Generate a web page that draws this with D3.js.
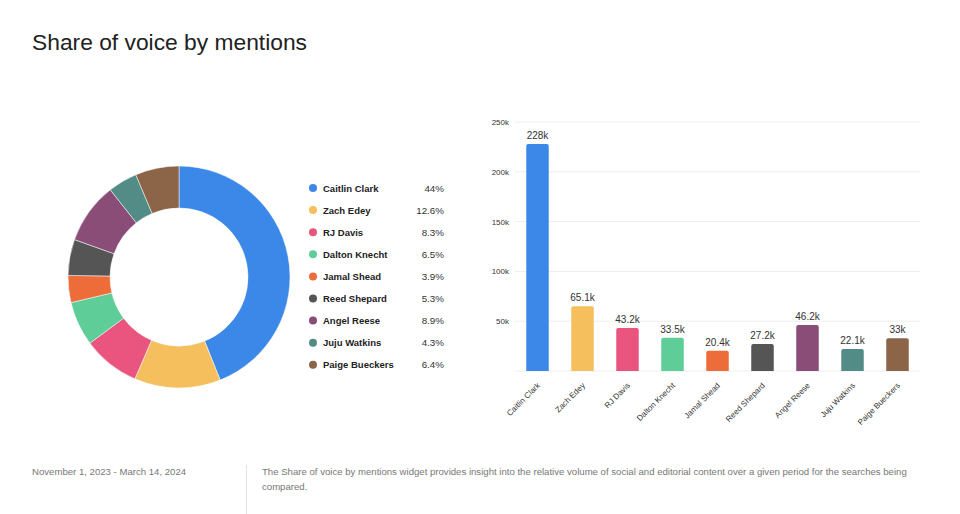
<!DOCTYPE html>
<html><head><meta charset="utf-8">
<script src="https://cdn.jsdelivr.net/npm/d3@7"></script>
<style>
html,body{margin:0;padding:0;background:#fff;}
svg{display:block;font-family:"Liberation Sans",Arial,Helvetica,sans-serif;}
</style></head>
<body>
<svg id="c" width="960" height="514"></svg>
<script>
const categories = ["Caitlin Clark","Zach Edey","RJ Davis","Dalton Knecht","Jamal Shead","Reed Shepard","Angel Reese","Juju Watkins","Paige Bueckers"];
const mentions = [228000,65100,43200,33500,20400,27200,46200,22100,33000];
const valueLabels = ["228k","65.1k","43.2k","33.5k","20.4k","27.2k","46.2k","22.1k","33k"];
const shares = ["44%","12.6%","8.3%","6.5%","3.9%","5.3%","8.9%","4.3%","6.4%"];
const colors = ["#3B88E8","#F5BF5E","#EA5580","#5ECD98","#EE6C3A","#555555","#8A4D78","#538C86","#8C6549"];
const yTicks = [50000,100000,150000,200000,250000];
const yTickLabels = ["50k","100k","150k","200k","250k"];

const svg = d3.select("#c");

svg.append("text").attr("x",32).attr("y",50).attr("font-size",22.8).attr("fill","#222")
  .text("Share of voice by mentions");

// Donut
const pie = d3.pie().sort(null).value(d=>d)(mentions);
const arc = d3.arc().innerRadius(69).outerRadius(111);
const g = svg.append("g").attr("transform","translate(179,277)");
g.selectAll("path").data(pie).join("path").attr("d",arc)
  .attr("fill",(d,i)=>colors[i]).attr("stroke","#fff").attr("stroke-width",0.5);

// Legend
const lg = svg.append("g");
categories.forEach((c,i)=>{
  const y = 188 + i*22.1;
  lg.append("circle").attr("cx",313).attr("cy",y).attr("r",4).attr("fill",colors[i]);
  lg.append("text").attr("x",323).attr("y",y+3.5).attr("font-size",9.5).attr("font-weight","bold").attr("fill","#222").text(c);
  lg.append("text").attr("x",444).attr("y",y+3.5).attr("font-size",9.8).attr("text-anchor","end").attr("fill","#333").text(shares[i]);
});

// Bar chart
const x = d3.scaleBand().domain(categories).range([515,920]).paddingInner(0.5).paddingOuter(0.25);
const y = d3.scaleLinear().domain([0,250000]).range([371,122]);

const grid = svg.append("g");
grid.selectAll("line").data([0].concat(yTicks)).join("line")
  .attr("x1",515).attr("x2",920).attr("y1",d=>y(d)).attr("y2",d=>y(d))
  .attr("stroke","#eeeeee").attr("stroke-width",1);

const yAxis = svg.append("g").attr("transform","translate(512,0)")
  .call(d3.axisLeft(y).tickValues(yTicks).tickFormat((d,i)=>yTickLabels[i]).tickSize(0).tickPadding(3));
yAxis.select(".domain").remove();
yAxis.selectAll("text").attr("font-size",8).attr("fill","#333").attr("font-family","Liberation Sans, Arial, sans-serif");

const r = 2;
svg.append("g").selectAll("path").data(mentions).join("path")
  .attr("d",(d,i)=>{
    const x0 = x(categories[i]), w = x.bandwidth(), y0 = y(d), y1 = y(0);
    return `M${x0},${y1}V${y0+r}Q${x0},${y0} ${x0+r},${y0}H${x0+w-r}Q${x0+w},${y0} ${x0+w},${y0+r}V${y1}Z`;
  })
  .attr("fill",(d,i)=>colors[i]);

svg.append("g").selectAll("text").data(mentions).join("text")
  .attr("x",(d,i)=>x(categories[i])+x.bandwidth()/2).attr("y",d=>y(d)-5)
  .attr("text-anchor","middle").attr("font-size",10).attr("fill","#333")
  .text((d,i)=>valueLabels[i]);

const xAxis = svg.append("g").attr("transform","translate(0,371)")
  .call(d3.axisBottom(x).tickSize(0).tickPadding(0));
xAxis.select(".domain").remove();
xAxis.selectAll("text")
  .attr("font-size",8).attr("fill","#333").attr("font-family","Liberation Sans, Arial, sans-serif")
  .attr("text-anchor","end").attr("dy",0)
  .attr("transform","translate(3,15) rotate(-45)");

// Footer
svg.append("line").attr("x1",246.5).attr("x2",246.5).attr("y1",465).attr("y2",514).attr("stroke","#e3e3e3");
svg.append("text").attr("x",32).attr("y",475).attr("font-size",9.6).attr("fill","#777")
  .text("November 1, 2023 - March 14, 2024");
svg.append("text").attr("x",262).attr("y",475).attr("font-size",9.6).attr("fill","#777")
  .text("The Share of voice by mentions widget provides insight into the relative volume of social and editorial content over a given period for the searches being");
svg.append("text").attr("x",262).attr("y",490).attr("font-size",9.6).attr("fill","#777")
  .text("compared.");
</script>
</body></html>
